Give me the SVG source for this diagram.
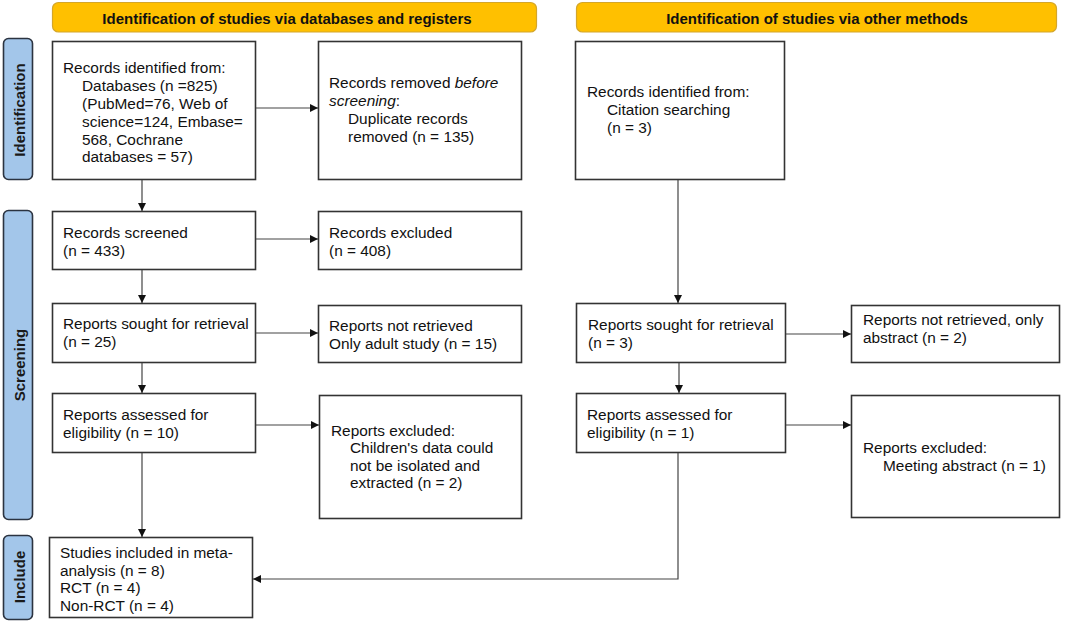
<svg xmlns="http://www.w3.org/2000/svg" width="1065" height="623" viewBox="0 0 1065 623">
<defs>
<marker id="ah" viewBox="0 0 10 10" refX="10" refY="5" markerWidth="8" markerHeight="8" markerUnits="userSpaceOnUse" orient="auto">
<path d="M0,0 L10,5 L0,10 Z" fill="#111"/>
</marker>
<style>
.box{fill:#fff;stroke:#333;stroke-width:1.6}
.hdr{fill:#FFC000;stroke:#d4a62a;stroke-width:1.2}
.side{fill:#a3c6ea;stroke:#2b3340;stroke-width:1.6}
.t{font-family:"Liberation Sans",Arial,sans-serif;font-size:15.4px;fill:#111}
.h{font-family:"Liberation Sans",Arial,sans-serif;font-size:15px;font-weight:bold;fill:#111;text-anchor:middle}
.s{font-family:"Liberation Sans",Arial,sans-serif;font-size:15px;font-weight:bold;fill:#1a1a1a;text-anchor:middle}
.c{fill:none;stroke:#444;stroke-width:1.2}
</style>
</defs>
<rect width="1065" height="623" fill="#fff"/>

<g id="header-databases"><rect class="hdr" x="52.5" y="2.5" width="484" height="29.5" rx="6"/><text class="h" x="287" y="23.5">Identification of studies via databases and registers</text></g>
<g id="header-other"><rect class="hdr" x="576.5" y="2.5" width="480" height="29.5" rx="6"/><text class="h" x="817" y="23.5">Identification of studies via other methods</text></g>

<g id="side-identification"><rect class="side" x="3.5" y="38.5" width="29" height="141" rx="5"/><text class="s" transform="translate(24.5,110) rotate(-90)">Identification</text></g>
<g id="side-screening"><rect class="side" x="3.5" y="210.5" width="29" height="309" rx="5"/><text class="s" transform="translate(24.5,365) rotate(-90)">Screening</text></g>
<g id="side-include"><rect class="side" x="3.5" y="535.5" width="29" height="84" rx="5"/><text class="s" transform="translate(24.5,577) rotate(-90)">Include</text></g>

<g id="records-identified"><rect class="box" x="52.5" y="41.5" width="203" height="138"/>
<text class="t" x="63" y="73">Records identified from:</text>
<text class="t" x="82" y="91">Databases (n =825)</text>
<text class="t" x="82" y="109">(PubMed=76, Web of</text>
<text class="t" x="82" y="127">science=124, Embase=</text>
<text class="t" x="82" y="145">568, Cochrane</text>
<text class="t" x="82" y="162">databases = 57)</text></g>

<g id="records-removed"><rect class="box" x="318.5" y="41.5" width="203" height="138"/>
<text class="t" x="329" y="88">Records removed <tspan font-style="italic">before</tspan></text>
<text class="t" x="329" y="106"><tspan font-style="italic">screening</tspan>:</text>
<text class="t" x="348" y="124">Duplicate records</text>
<text class="t" x="348" y="142">removed (n = 135)</text></g>

<g id="citation-records"><rect class="box" x="575.5" y="41.5" width="209" height="138"/>
<text class="t" x="587" y="97">Records identified from:</text>
<text class="t" x="607" y="115">Citation searching</text>
<text class="t" x="607" y="133">(n = 3)</text></g>

<g id="records-screened"><rect class="box" x="52.5" y="211.5" width="203" height="58"/>
<text class="t" x="63" y="238">Records screened</text>
<text class="t" x="63" y="256">(n = 433)</text></g>

<g id="records-excluded"><rect class="box" x="318.5" y="211.5" width="203" height="58"/>
<text class="t" x="329" y="238">Records excluded</text>
<text class="t" x="329" y="256">(n = 408)</text></g>

<g id="reports-sought"><rect class="box" x="52.5" y="303.5" width="203" height="59"/>
<text class="t" x="63" y="329">Reports sought for retrieval</text>
<text class="t" x="63" y="347">(n = 25)</text></g>

<g id="reports-not-retrieved"><rect class="box" x="318.5" y="305.5" width="203" height="57"/>
<text class="t" x="329" y="331">Reports not retrieved</text>
<text class="t" x="329" y="349">Only adult study (n = 15)</text></g>

<g id="reports-sought-other"><rect class="box" x="576.5" y="303.5" width="209" height="59"/>
<text class="t" x="588" y="330">Reports sought for retrieval</text>
<text class="t" x="588" y="348">(n = 3)</text></g>

<g id="reports-not-retrieved-other"><rect class="box" x="851.5" y="305.5" width="208" height="57"/>
<text class="t" x="863" y="325">Reports not retrieved, only</text>
<text class="t" x="863" y="343">abstract (n = 2)</text></g>

<g id="reports-assessed"><rect class="box" x="52.5" y="393.5" width="203" height="59"/>
<text class="t" x="63" y="420">Reports assessed for</text>
<text class="t" x="63" y="438">eligibility (n = 10)</text></g>

<g id="reports-excluded"><rect class="box" x="319.5" y="395.5" width="202" height="123"/>
<text class="t" x="331" y="436">Reports excluded:</text>
<text class="t" x="350" y="453">Children's data could</text>
<text class="t" x="350" y="471">not be isolated and</text>
<text class="t" x="350" y="488">extracted (n = 2)</text></g>

<g id="reports-assessed-other"><rect class="box" x="576.5" y="393.5" width="209" height="59"/>
<text class="t" x="587" y="420">Reports assessed for</text>
<text class="t" x="587" y="438">eligibility (n = 1)</text></g>

<g id="reports-excluded-other"><rect class="box" x="851.5" y="395.5" width="208" height="122"/>
<text class="t" x="863" y="453">Reports excluded:</text>
<text class="t" x="883" y="471">Meeting abstract (n = 1)</text></g>

<g id="studies-included"><rect class="box" x="49.5" y="537.5" width="203" height="80"/>
<text class="t" x="60" y="558">Studies included in meta-</text>
<text class="t" x="60" y="576">analysis (n = 8)</text>
<text class="t" x="60" y="593">RCT (n = 4)</text>
<text class="t" x="60" y="611">Non-RCT (n = 4)</text></g>

<g id="connectors">
<line class="c" x1="142" y1="180" x2="142" y2="211" marker-end="url(#ah)"/>
<line class="c" x1="256" y1="108" x2="318" y2="108" marker-end="url(#ah)"/>
<line class="c" x1="256" y1="239" x2="318" y2="239" marker-end="url(#ah)"/>
<line class="c" x1="142" y1="270" x2="142" y2="303" marker-end="url(#ah)"/>
<line class="c" x1="256" y1="333" x2="318" y2="333" marker-end="url(#ah)"/>
<line class="c" x1="142" y1="363" x2="142" y2="393" marker-end="url(#ah)"/>
<line class="c" x1="256" y1="425" x2="319" y2="425" marker-end="url(#ah)"/>
<line class="c" x1="142" y1="453" x2="142" y2="537" marker-end="url(#ah)"/>
<line class="c" x1="678" y1="180" x2="678" y2="303" marker-end="url(#ah)"/>
<line class="c" x1="786" y1="334" x2="851" y2="334" marker-end="url(#ah)"/>
<line class="c" x1="679" y1="363" x2="679" y2="393" marker-end="url(#ah)"/>
<line class="c" x1="786" y1="425" x2="851" y2="425" marker-end="url(#ah)"/>
<polyline class="c" points="678,453 678,579 253,579" marker-end="url(#ah)"/>
</g>
</svg>
